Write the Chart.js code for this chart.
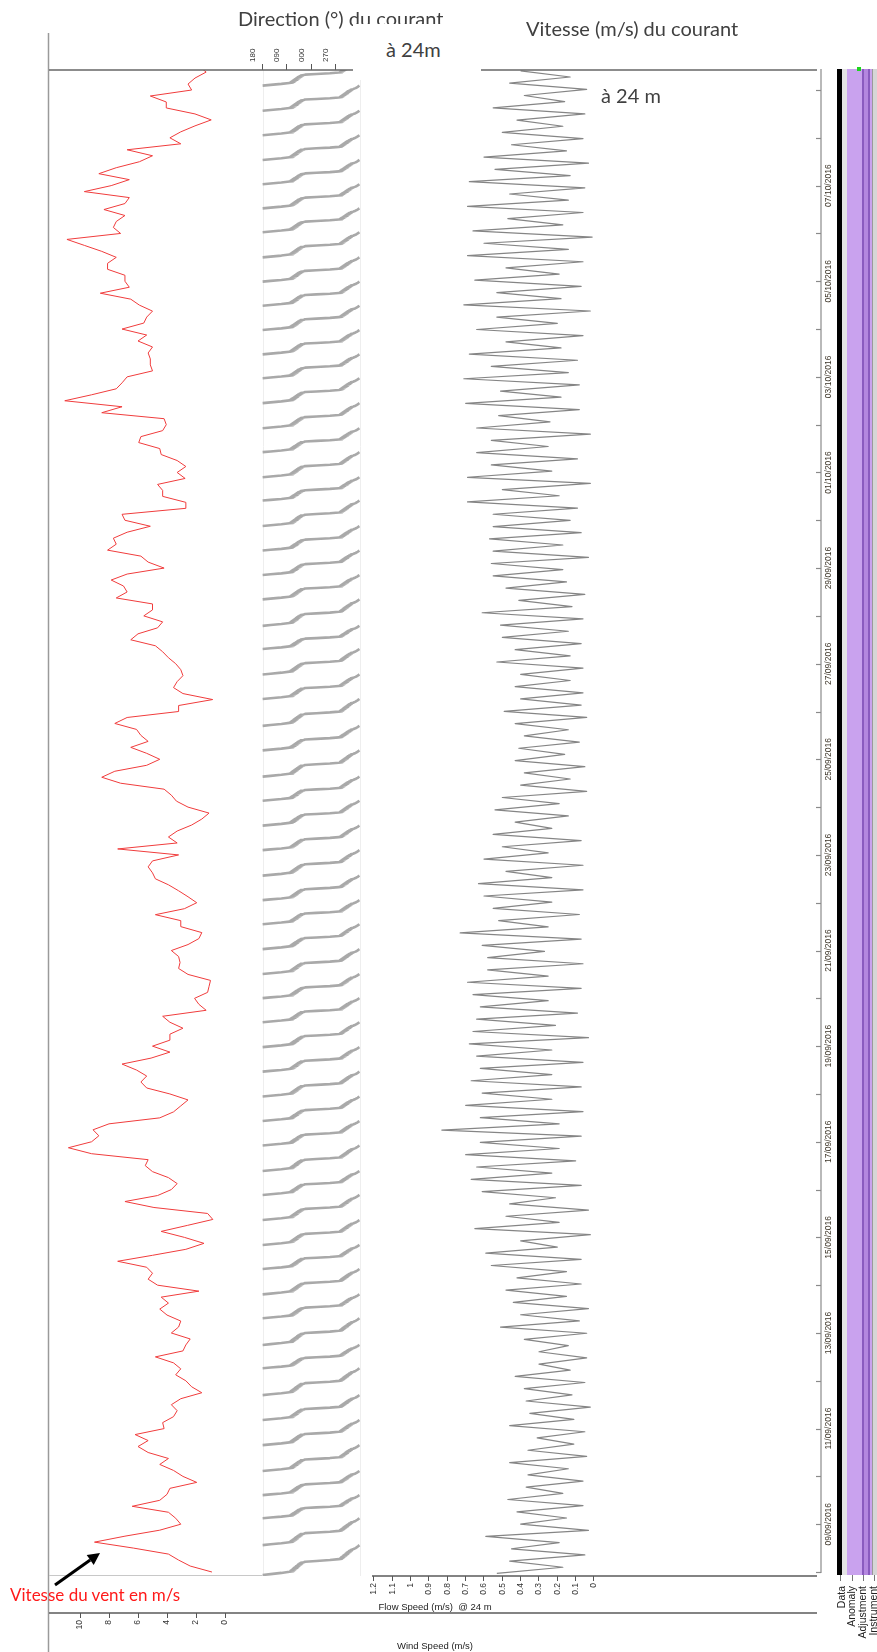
<!DOCTYPE html>
<html lang="fr">
<head>
<meta charset="utf-8">
<title>Vent et courant à 24 m</title>
<script src="https://cdn.jsdelivr.net/npm/chart.js@4.4.1/dist/chart.umd.min.js"></script>
<style>
  html, body { margin: 0; padding: 0; background: #fff; }
  #page { position: relative; width: 877px; height: 1652px; overflow: hidden; background: #fff; }
  #plot { position: absolute; left: 0; top: 0; }
  .note { position: absolute; font-family: Lato, "Open Sans", "DejaVu Sans", sans-serif; font-size: 20px; line-height: 20px; color: #404040; white-space: nowrap; }
  .mask { position: absolute; background: #fff; }
  .bar { position: absolute; top: 69px; height: 1506px; }
  .flag { position: absolute; width: 70px; height: 11px; line-height: 11px; font-family: "Liberation Sans", Arial, sans-serif; font-size: 10.5px; color: #222; text-align: right; transform: rotate(-90deg); transform-origin: 0 0; white-space: nowrap; }
  .ftick { position: absolute; top: 1575px; width: 1px; height: 6px; background: #777; }
</style>
</head>
<body>
<div id="page">
  <canvas id="plot" width="877" height="1652"></canvas>

  <div class="note" style="left:238px;top:8px">Direction (°) du courant</div>
  <div class="mask" style="left:353px;top:24px;width:128px;height:56px"></div>
  <div class="note" style="left:386px;top:39px">à 24m</div>
  <div class="note" style="left:526px;top:18px">Vitesse (m/s) du courant</div>
  <div class="note" style="left:601px;top:85px">à 24 m</div>
  <div class="note" style="left:10px;top:1585px;font-size:17px;color:#ff1a1a">Vitesse du vent en m/s</div>

  <svg style="position:absolute;left:40px;top:1540px" width="80" height="60">
    <line x1="15" y1="45" x2="50.2" y2="20" stroke="#000" stroke-width="3"/>
    <polygon points="60,13 53.7,24.9 46.7,15.1" fill="#000"/>
  </svg>

  <!-- quality flag strips -->
  <div class="bar" style="left:837px;width:5px;background:#000"></div>
  <div class="bar" style="left:842px;width:5px;background:#e4e4e4"></div>
  <div class="bar" style="left:847px;width:15px;background:#c9a2ee"></div>
  <div class="bar" style="left:862px;width:2px;background:#8a5bbf"></div>
  <div class="bar" style="left:864px;width:4px;background:#b487df"></div>
  <div class="bar" style="left:868px;width:2px;background:#8a5bbf"></div>
  <div class="bar" style="left:870px;width:2px;background:#c9a2ee"></div>
  <div class="bar" style="left:872px;width:5px;background:#d6d6d6;border-left:1px solid #9a9a9a"></div>
  <div style="position:absolute;left:857px;top:67px;width:4px;height:4px;background:#1fd41f"></div>
  <div class="ftick" style="left:840px"></div>
  <div class="ftick" style="left:852px"></div>
  <div class="ftick" style="left:863px"></div>
  <div class="ftick" style="left:874px"></div>
  <div class="flag" style="left:836px;top:1656px">Data</div>
  <div class="flag" style="left:846px;top:1656px">Anomaly</div>
  <div class="flag" style="left:857px;top:1656px">Adjustment</div>
  <div class="flag" style="left:868px;top:1656px">Instrument</div>
</div>

<script>
// Wind speed (m/s), one value every 3 h from 08/09/2016 00:00
const WIND_STEP_H = 3;
const windSpeed = [
  0.9, 2.4, 3.2, 3.9, 6.3, 9.0, 6.9, 4.5, 3.05, 3.4, 3.9, 6.4, 4.5, 4.0, 3.8, 1.95, 2.9, 3.55, 4.5, 3.9,
  5.3, 6.0, 5.3, 6.2, 4.2, 4.3, 3.55, 3.3, 3.7, 3.05, 1.6, 2.3, 2.7, 3.4, 3.05, 3.55, 4.8, 2.9, 2.7, 2.4,
  3.7, 3.2, 3.05, 4.0, 4.5, 3.9, 4.4, 1.8, 4.65, 5.3, 5.0, 5.4, 7.4, 5.0, 2.7, 1.45, 2.8, 4.4, 2.6, 0.84,
  1.2, 4.9, 6.9, 4.65, 3.7, 3.3, 3.9, 5.0, 5.5, 5.3, 9.2, 10.8, 9.2, 8.7, 9.1, 8.0, 4.5, 3.55, 3.05, 2.55,
  3.8, 5.4, 5.8, 5.4, 6.1, 7.1, 5.1, 3.8, 5.0, 3.8, 3.8, 2.9, 3.8, 4.3, 1.3, 1.8, 2.1, 1.2, 1.1, 1.0,
  2.55, 3.2, 3.1, 3.2, 3.7, 2.55, 1.8, 1.6, 3.05, 3.05, 4.8, 2.8, 1.95, 2.55, 3.2, 3.9, 4.8, 5.0, 5.3, 5.0,
  3.2, 7.4, 3.3, 3.9, 3.3, 2.3, 1.6, 1.1, 2.55, 3.35, 3.7, 4.2, 7.2, 8.5, 7.6, 5.4, 4.5, 5.4, 6.5, 5.3,
  5.8, 6.1, 7.6, 6.75, 3.2, 3.2, 0.85, 2.9, 3.55, 3.3, 2.9, 3.05, 3.4, 3.9, 4.3, 4.8, 6.5, 6.0, 4.65, 4.3,
  5.6, 5.0, 5.0, 7.5, 6.75, 7.0, 7.85, 6.75, 4.2, 5.3, 5.8, 8.1, 7.5, 7.7, 6.75, 5.15, 6.9, 7.1, 2.7, 2.7,
  4.3, 4.3, 4.65, 2.75, 3.3, 2.7, 3.3, 4.4, 4.5, 5.95, 5.8, 4.3, 4.05, 4.2, 8.5, 7.1, 11.05, 9.2, 7.5, 7.1,
  6.75, 5.0, 5.15, 5.15, 5.3, 5.0, 6.0, 5.4, 7.1, 5.6, 5.4, 5.0, 5.9, 6.5, 8.6, 6.6, 6.9, 6.9, 8.1, 8.1,
  7.5, 8.5, 9.7, 10.9, 7.2, 7.7, 7.5, 6.9, 8.35, 6.9, 6.6, 9.7, 7.85, 6.6, 8.7, 7.5, 5.9, 5.0, 6.75, 3.05,
  3.8, 3.05, 2.07, 0.95, 2.07, 4.05, 4.05, 5.15, 2.3, 2.55, 2.07, 1.3, 1.8
];

// Flow speed at 24 m (m/s), successive tidal highs and lows
const FLOW_START_H = -0.7;
const FLOW_STEP_H = 3.0915;
const flowSpeed = [
  0.53, 0.17, 0.46, 0.05, 0.45, 0.19, 0.59, 0.03, 0.40, 0.15, 0.42, 0.06, 0.47, 0.17, 0.37, 0.06, 0.36, 0.14, 0.46, 0.04,
  0.36, 0.11, 0.31, 0.05, 0.46, 0.11, 0.35, 0.02, 0.37, 0.12, 0.38, 0.05, 0.43, 0.13, 0.30, 0.04, 0.30, 0.14, 0.38, 0.04,
  0.51, 0.08, 0.40, 0.03, 0.44, 0.15, 0.48, 0.07, 0.42, 0.15, 0.56, 0.07, 0.59, 0.20, 0.40, 0.02, 0.65, 0.19, 0.48, 0.03,
  0.46, 0.21, 0.61, 0.07, 0.67, 0.23, 0.64, 0.10, 0.70, 0.19, 0.62, 0.07, 0.83, 0.19, 0.62, 0.06, 0.70, 0.23, 0.61, 0.07,
  0.67, 0.23, 0.62, 0.06, 0.64, 0.23, 0.68, 0.03, 0.66, 0.21, 0.64, 0.09, 0.62, 0.25, 0.66, 0.07, 0.69, 0.25, 0.58, 0.06,
  0.58, 0.27, 0.61, 0.07, 0.73, 0.25, 0.52, 0.08, 0.55, 0.23, 0.60, 0.06, 0.63, 0.23, 0.48, 0.06, 0.60, 0.25, 0.50, 0.07,
  0.55, 0.23, 0.43, 0.14, 0.54, 0.19, 0.50, 0.04, 0.40, 0.13, 0.38, 0.05, 0.43, 0.16, 0.41, 0.08, 0.38, 0.14, 0.43, 0.04,
  0.49, 0.07, 0.40, 0.06, 0.43, 0.13, 0.40, 0.06, 0.53, 0.13, 0.43, 0.07, 0.50, 0.14, 0.51, 0.06, 0.61, 0.12, 0.41, 0.05,
  0.48, 0.15, 0.55, 0.17, 0.56, 0.03, 0.55, 0.17, 0.57, 0.07, 0.55, 0.13, 0.55, 0.09, 0.69, 0.19, 0.50, 0.02, 0.69, 0.23,
  0.56, 0.09, 0.64, 0.25, 0.56, 0.02, 0.64, 0.24, 0.52, 0.08, 0.70, 0.18, 0.51, 0.08, 0.71, 0.14, 0.56, 0.09, 0.68, 0.18,
  0.48, 0.06, 0.64, 0.20, 0.53, 0.02, 0.71, 0.18, 0.53, 0.07, 0.65, 0.19, 0.48, 0.06, 0.69, 0.14, 0.60, 0.01, 0.66, 0.17,
  0.47, 0.06, 0.69, 0.14, 0.46, 0.05, 0.68, 0.13, 0.54, 0.03, 0.60, 0.15, 0.45, 0.06, 0.50, 0.17, 0.42, 0.05, 0.55, 0.16,
  0.38, 0.04, 0.46, 0.13, 0.40
];

// Current direction at 24 m: start of each tidal rotation (h) and the
// direction reading through one rotation (fraction of cycle, degrees)
const dirCycleStartH = [
  -1.5, 13.5, 27.0, 38.6, 50.7, 63.7, 76.3, 88.8, 102.3, 114.0, 127.4, 139.4, 152.1, 164.2, 176.7, 189.3,
  201.3, 214.1, 226.4, 238.7, 251.2, 263.5, 276.0, 288.1, 300.2, 312.7, 325.2, 337.3, 349.6, 362.4, 374.7,
  387.2, 399.3, 412.5, 424.8, 438.3, 450.6, 463.4, 475.0, 488.3, 500.5, 512.8, 525.1, 537.9, 549.6, 562.2,
  574.2, 586.8, 599.3, 611.3, 623.5, 635.7, 647.8, 660.0, 672.6, 684.6, 696.7, 708.9, 721.3, 733.6, 746.2
];
const DIR_LAST_CYCLE_H = 12.4;
const dirCycleFrac = [
  0, 0.03, 0.07, 0.11, 0.125, 0.14, 0.155, 0.17, 0.185, 0.2, 0.215, 0.23, 0.245, 0.26, 0.275, 0.29,
  0.305, 0.32, 0.335, 0.35, 0.365, 0.38, 0.395, 0.41, 0.425, 0.445, 0.47, 0.5, 0.53, 0.545, 0.56, 0.575,
  0.59, 0.605, 0.62, 0.635, 0.65, 0.665, 0.68, 0.695, 0.71, 0.725, 0.74, 0.755, 0.77, 0.785, 0.8, 0.82,
  0.84, 0.86, 0.88, 0.9, 0.925, 0.95, 0.975, 1.0
];
const dirCycleDeg = [
  179.5, 150, 110, 80, 66, 76, 62, 72, 58, 68, 54, 64, 50, 60, 47, 56,
  43, 52, 39, 48, 35, 43, 31, 38, 27, 22, 340, 290, 257, 244, 252, 240,
  248, 236, 244, 232, 240, 228, 236, 224, 232, 221, 228, 217, 224, 213, 219, 209,
  213, 204, 200, 195, 191, 187, 184, 180.5
];

// Axis ticks
const flowTicks = [0, 0.1, 0.2, 0.3, 0.4, 0.5, 0.6, 0.7, 0.8, 0.9, 1, 1.1, 1.2];
const windTicks = [0, 2, 4, 6, 8, 10];
const dirTicks = [180, 90, 0, 270];
const dateLabels = ['09/09/2016', '11/09/2016', '13/09/2016', '15/09/2016', '17/09/2016', '19/09/2016',
  '21/09/2016', '23/09/2016', '25/09/2016', '27/09/2016', '29/09/2016', '01/10/2016', '03/10/2016',
  '05/10/2016', '07/10/2016'];
const TIME_ORIGIN = Date.UTC(2016, 8, 8);
const TIME_MIN_H = -2.0, TIME_MAX_H = 754.05;
const DAY_TICKS = 31;

// Direction axis runs 180 -> 090 -> 000 -> 270 -> 180 from left to right
const dirToAxis = d => ((180 - d) % 360 + 360) % 360;
const hoursOf = s => { const [dd, mm, yy] = s.split('/').map(Number); return (Date.UTC(yy, mm - 1, dd) - TIME_ORIGIN) / 3.6e6; };

const windPts = windSpeed.map((v, i) => ({ x: v, y: i * WIND_STEP_H }));
const flowPts = flowSpeed.map((v, j) => ({ x: v, y: FLOW_START_H + j * FLOW_STEP_H }));
const dirPts = [];
dirCycleStartH.forEach((t0, k) => {
  const len = k + 1 < dirCycleStartH.length ? dirCycleStartH[k + 1] - t0 : DIR_LAST_CYCLE_H;
  dirCycleFrac.forEach((f, p) => {
    const u = dirToAxis(dirCycleDeg[p]);
    const prev = dirPts[dirPts.length - 1];
    if (prev && Number.isFinite(prev.x) && Math.abs(prev.x - u) > 180) dirPts.push({ x: NaN, y: t0 + f * len });
    dirPts.push({ x: u, y: t0 + f * len });
  });
});

function seg(ctx, x1, y1, x2, y2) { ctx.beginPath(); ctx.moveTo(x1, y1); ctx.lineTo(x2, y2); ctx.stroke(); }

const framePlugin = {
  id: 'frame',
  beforeDatasetsDraw(chart) {
    const { ctx, chartArea: a, scales: { xd } } = chart;
    ctx.save();
    ctx.strokeStyle = '#eeeeee';
    ctx.lineWidth = 1;
    for (const u of [0, 360]) { const x = Math.round(xd.getPixelForValue(u)) + 0.5; seg(ctx, x, a.top, x, a.bottom); }
    ctx.restore();
  },
  afterDraw(chart) {
    const { ctx, chartArea: a, scales: { xd, xf, xw, y } } = chart;
    ctx.save();
    ctx.strokeStyle = '#9a9a9a'; ctx.lineWidth = 1.5;
    seg(ctx, 48.5, 33, 48.5, 1652);
    ctx.strokeStyle = '#666'; ctx.lineWidth = 1.6;
    seg(ctx, a.left, a.top, 817, a.top);
    ctx.strokeStyle = '#c8c8c8'; ctx.lineWidth = 1;
    seg(ctx, a.left, a.bottom - 0.5, xd.getPixelForValue(0), a.bottom - 0.5);
    ctx.strokeStyle = '#5a5a5a'; ctx.lineWidth = 1.5;
    seg(ctx, xf.getPixelForValue(flowTicks[flowTicks.length - 1]) - 2, a.bottom, 817, a.bottom);
    seg(ctx, a.left, xw.top, 817, xw.top);
    // time axis on the right
    ctx.strokeStyle = '#8a8a8a'; ctx.lineWidth = 1.2;
    seg(ctx, a.right, a.top - 1, a.right, a.bottom - 3);
    for (let d = 0; d <= DAY_TICKS; d++) {
      const py = Math.round(y.getPixelForValue(d * 24)) + 0.5;
      seg(ctx, a.right - 5, py, a.right, py);
    }
    ctx.fillStyle = '#3d3528';
    ctx.font = '8.5px "Liberation Sans", Arial, sans-serif';
    ctx.textAlign = 'center';
    ctx.textBaseline = 'middle';
    dateLabels.forEach(s => {
      const py = y.getPixelForValue(hoursOf(s));
      ctx.save(); ctx.translate(a.right + 8, py); ctx.rotate(-Math.PI / 2); ctx.fillText(s, 0, 0); ctx.restore();
    });
    ctx.restore();
  }
};

Chart.defaults.font.family = '"Liberation Sans", Arial, sans-serif';
Chart.defaults.font.size = 8.5;
Chart.defaults.color = '#333';

const rotated = { autoSkip: false, minRotation: 90, maxRotation: 90, padding: 2 };

new Chart(document.getElementById('plot'), {
  type: 'scatter',
  data: {
    datasets: [
      { label: 'Wind Speed (m/s)', data: windPts, xAxisID: 'xw', yAxisID: 'y', showLine: true,
        borderColor: '#f03c3c', borderWidth: 1, pointRadius: 0, tension: 0 },
      { label: 'Direction (°)', data: dirPts, xAxisID: 'xd', yAxisID: 'y', showLine: true, spanGaps: false,
        borderColor: '#a9a9a9', borderWidth: 2.6, pointRadius: 0, tension: 0 },
      { label: 'Flow Speed (m/s) @ 24 m', data: flowPts, xAxisID: 'xf', yAxisID: 'y', showLine: true,
        borderColor: '#858585', borderWidth: 1.2, pointRadius: 0, tension: 0 }
    ]
  },
  options: {
    responsive: false,
    animation: false,
    devicePixelRatio: 1,
    layout: { padding: { left: 49, right: 0, top: 0, bottom: 0 } },
    plugins: { legend: { display: false }, tooltip: { enabled: false } },
    elements: { line: { borderJoinStyle: 'round' } },
    scales: {
      y: {
        type: 'linear', position: 'right', min: TIME_MIN_H, max: TIME_MAX_H,
        grid: { display: false }, border: { display: false }, ticks: { display: false },
        afterFit(s) { s.width = 56; }
      },
      xd: {
        type: 'linear', position: 'top', min: -791.7, max: 2071.0,
        afterBuildTicks(s) { s.ticks = dirTicks.map(d => ({ value: dirToAxis(d) })); },
        ticks: { ...rotated, font: { size: 8 }, callback: v => String(dirTicks.find(d => dirToAxis(d) === v)).padStart(3, '0') },
        grid: { drawOnChartArea: false, tickLength: 6, color: '#555' },
        border: { display: false },
        afterFit(s) { s.height = 70; }
      },
      xf: {
        type: 'linear', position: 'bottom', weight: 0, reverse: true, min: -1.2382, max: 2.9727,
        afterBuildTicks(s) { s.ticks = flowTicks.map(v => ({ value: v })); },
        ticks: { ...rotated, callback: v => String(v) },
        grid: { drawOnChartArea: false, tickLength: 5, color: '#555' },
        border: { display: false },
        title: { display: true, text: 'Flow Speed (m/s)  @ 24 m', font: { size: 9.5, lineHeight: 1 }, color: '#222', padding: { top: 0, bottom: 1 } },
        afterFit(s) { s.height = 37; }
      },
      xw: {
        type: 'linear', position: 'bottom', weight: 1, reverse: true, min: -41.103, max: 12.138,
        afterBuildTicks(s) { s.ticks = windTicks.map(v => ({ value: v })); },
        ticks: { ...rotated, callback: v => String(v) },
        grid: { drawOnChartArea: false, tickLength: 5, color: '#555' },
        border: { display: false },
        title: { display: true, text: 'Wind Speed (m/s)', font: { size: 9.5, lineHeight: 1 }, color: '#222', padding: { top: 0, bottom: 1 } },
        afterFit(s) { s.height = 39; }
      }
    }
  },
  plugins: [framePlugin]
});
</script>
</body>
</html>
